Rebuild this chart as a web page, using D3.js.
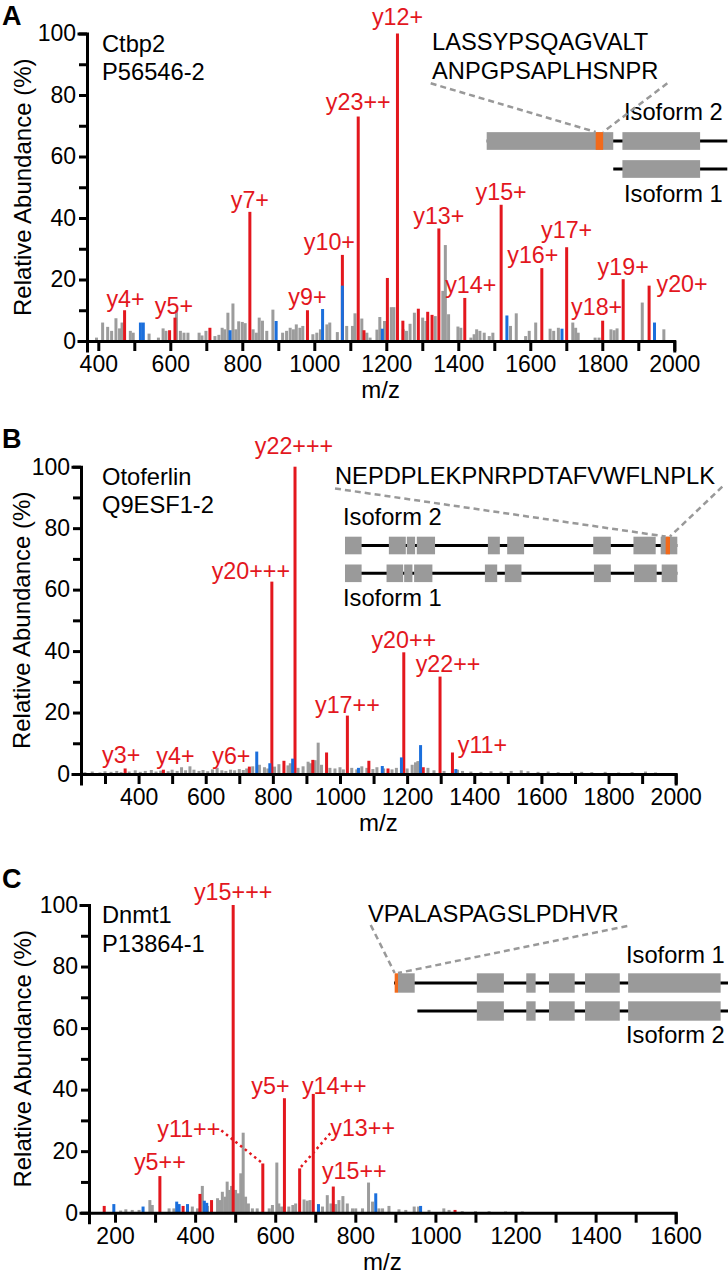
<!DOCTYPE html>
<html><head><meta charset="utf-8">
<script src="https://cdn.jsdelivr.net/npm/d3@7"></script>
<style>
body{margin:0;background:#fff}
svg text{font-family:"Liberation Sans",Arial,Helvetica,sans-serif}
</style>
</head><body>
<svg id="chart" width="728" height="1280"></svg>
<script>
// ---------------- DATA ----------------
// Panel A : Ctbp2
const grayA = [[395,1.1],[412,6],[426,4.6],[437,3.3],[449,7.4],[459,4.1],[466,6],[489,3.3],[497,2.7],[541,2.4],[567,1.1],[580,4.1],[588,3.3],[617,10],[628,3.3],[638,2.7],[649,2.7],[680,2.7],[688,1.8],[699,3.3],[724,1.6],[735,2],[744,4.3],[751,3.8],[760,9.2],[774,12.2],[782,3.8],[790,6.4],[800,6.2],[808,5.8],[830,3.8],[839,2.7],[847,7.6],[856,6.6],[868,3.3],[885,10.2],[912,2.7],[923,3.3],[933,4.3],[942,3.8],[950,5.4],[960,4.3],[968,4.9],[996,2.2],[1007,2.7],[1017,3.8],[1035,5.4],[1043,6],[1064,2.9],[1090,4.9],[1106,4.9],[1113,9],[1132,7.3],[1146,2.7],[1155,1.1],[1174,3.7],[1182,7.8],[1195,6.5],[1214,11],[1221,11],[1247,3.8],[1256,3.3],[1266,5.6],[1278,9.2],[1301,7.6],[1310,6.5],[1336,8.1],[1357,16.3],[1364,31.2],[1373,8.7],[1399,4.7],[1407,4.3],[1435,1.1],[1444,2.2],[1451,3.8],[1460,3.3],[1472,2.7],[1486,1.6],[1496,2.7],[1545,4.9],[1561,9],[1587,1.6],[1597,3.3],[1615,6],[1655,4],[1665,3.3],[1678,4.3],[1718,6],[1726,4.3],[1733,2.7],[1780,1.1],[1791,1.1],[1824,3.8],[1833,3.5],[1841,4.1],[1911,12.5],[1971,3.8]];
const redA = [[473,10],[598,3.5],[613,7.6],[710,4.3],[821,42],[981,10],[1078,28],[1122,73],[1138,3.5],[1203,20.5],[1231,100],[1246,6.6],[1289,10.5],[1315,9.5],[1327,8.5],[1346,36.6],[1418,14],[1519,44.3],[1632,23.7],[1701,30.5],[1801,6.6],[1858,20.1],[1930,18]];
const blueA = [[517,6],[525,6],[766,3.5],[894,6.5],[1023,10.4],[1078,18],[1189,4],[1535,8.3],[1688,4],[1945,6]];
const labelTextA = ["y4+","y5+","y7+","y9+","y10+","y23++","y12+","y13+","y14+","y15+","y16+","y17+","y18+","y19+","y20+"];
const labelMzA = [473,613,821,981,1078,1122,1231,1346,1418,1519,1632,1701,1801,1858,1930];

// Panel B : Otoferlin
const grayB = [[240,0.6],[262,0.8],[285,0.5],[300,0.9],[318,0.7],[335,1.0],[348,0.6],[372,0.8],[390,1.2],[405,0.7],[420,1.0],[438,1.3],[452,0.8],[466,1.1],[488,0.9],[500,1.4],[515,1.0],[528,2.2],[540,1.2],[553,2.5],[565,1.4],[580,1.0],[592,1.3],[606,0.9],[620,1.5],[634,2.0],[648,1.2],[660,1.0],[674,1.4],[686,1.2],[700,1.6],[712,1.3],[722,1.8],[740,2.5],[760,3.0],[775,2.2],[785,1.8],[805,2.4],[818,3.2],[845,2.8],[852,3.5],[875,2.0],[890,2.5],[905,4.0],[912,3.5],[926,4.5],[935,10.2],[945,3.0],[970,2.0],[985,1.8],[1000,2.2],[1010,1.5],[1035,2.0],[1050,1.5],[1065,2.5],[1080,2.0],[1098,1.6],[1110,2.2],[1130,1.8],[1155,1.5],[1168,2.0],[1200,1.8],[1215,3.0],[1225,3.8],[1232,4.2],[1262,2.0],[1280,1.2],[1310,1.0],[1350,1.4],[1365,1.0],[1390,0.8],[1420,0.7],[1450,0.9],[1480,0.8],[1510,1.0],[1540,1.2],[1560,0.9],[1590,0.7],[1620,0.8],[1650,0.6],[1690,0.8],[1720,0.7],[1750,0.6],[1790,0.7],[1830,0.5],[1870,0.6],[1910,0.8],[1940,0.5]];
const redB = [[360,1.8],[474,1.4],[730,2.4],[797,62.6],[833,4.3],[866,100],[919,4.6],[960,7],[1022,19],[1086,4.3],[1143,1.8],[1190,39.6],[1248,2.2],[1298,31.7],[1335,7]];
const blueB = [[752,7.3],[791,3.5],[859,5],[1055,2],[1126,2.6],[1183,5.4],[1240,9.4],[1345,1.6]];
const labelTextB = ["y3+","y4+","y6+","y20+++","y22+++","y17++","y20++","y22++","y11+"];
const labelMzB = [360,474,730,797,866,1022,1190,1298,1335];

// Panel C : Dnmt1
const grayC = [[214,0.7],[227,1.1],[243,0.9],[260,0.9],[287,4.1],[293,2.5],[335,1.4],[347,1.4],[393,2],[406,1.4],[418,8.7],[431,2.2],[456,4.7],[462,4.1],[468,6.8],[475,5.2],[480,10.1],[486,7.4],[491,8.7],[501,7.4],[508,6.3],[514,12.8],[520,26],[526,5.2],[533,3],[543,1.4],[555,1.4],[585,1.4],[593,2.5],[604,16.3],[609,3],[616,2],[634,2],[644,2.5],[651,3],[672,4.3],[680,3.9],[687,4.1],[718,2],[730,5.7],[739,3],[751,2.8],[759,4.1],[769,5.4],[780,3],[793,1.4],[801,1.4],[818,1.4],[833,9.8],[843,3.6],[859,1.4],[868,1.4],[884,2.2],[909,1.1],[926,0.9],[947,2],[958,2],[984,0.9],[1021,1.4],[1034,0.9],[1067,0.5],[1100,0.5],[1134,0.5],[1175,0.4],[1217,0.4]];
const redC = [[173,2.2],[312,11.9],[370,2.2],[412,6.1],[441,4.1],[495,100],[569,16],[623,37.2],[661,14.4],[695,38.6],[745,8.5],[1049,0.9]];
const blueC = [[197,2.8],[270,2],[354,3.6],[360,2.8],[381,2.8],[423,3.9],[429,3.2],[708,2.8],[851,6.3],[963,2.2]];
const labelTextC = ["y5++","y11++","y15+++","y5+","y14++","y13++","y15++"];
const labelMzC = [312,569,495,623,695,661,745];

// Axis tick values
const yTicks = [0,10,20,30,40,50,60,70,80,90,100];
const xTicksA = d3.range(400, 2001, 100);
const xTicksB = d3.range(300, 2001, 100);
const xTicksC = d3.range(200, 1601, 100);

// Isoform gene models (relative gene coordinates 0-1000)
const isoA2 = [[0,526],[564,887]];
const isoA1 = [[564,887]];
const pepA = [453,484];
const isoB2 = [[0,50],[132,183],[186,211],[216,271],[430,466],[488,539],[747,800],[868,935],[950,1000]];
const isoB1 = [[0,50],[125,175],[178,203],[208,263],[421,458],[481,531],[749,800],[870,938],[953,1000]];
const pepB = [965,978];
const isoC1 = [[12,62],[248,329],[396,424],[464,541],[572,676],[701,978]];
const isoC2 = [[248,329],[396,424],[464,541],[572,676],[701,978]];
const pepC = [2,12];

// ---------------- LAYOUT ----------------
const RED="#e3171e", BLUE="#1b6fdc", GRAY="#9c9c9c", ORANGE="#f26a1b", EXON="#9a9a9a";
const FS=23.7;
const svg = d3.select("#chart");

const panels = [
 {letter:"A", letterY:25, gray:grayA, red:redA, blue:blueA, xd:[368.6,2000], xr:[87,674.3], yr:[341,33.5], xt:xTicksA, lab:200,
  ylabX:31, names:["Ctbp2","P56546-2"], namesY:[51.7,80],
  labels:labelTextA, labelMz:labelMzA,
  off:[[1,-3],[-1,-4],[0,-4],[0,-5],[-13,-5],[0,-7],[0,-9],[0,-4],[6,-5],[0,-5],[-9,-5],[0,-9],[-6,-6],[0,-4],[33,6]]},
 {letter:"B", letterY:448, gray:grayB, red:redB, blue:blueB, xd:[228.5,2000], xr:[81,675.7], yr:[774,466.7], xt:xTicksB, lab:200,
  ylabX:29.5, names:["Otoferlin","Q9ESF1-2"], namesY:[485,513.3],
  labels:labelTextB, labelMz:labelMzB,
  off:[[-4,-5],[12,-6],[-18,-3],[-21,-3],[-1,-13],[0,-3],[0,-4],[8,-5],[30,1]]},
 {letter:"C", letterY:888, gray:grayC, red:redC, blue:blueC, xd:[135,1600], xr:[89,675.7], yr:[1212.7,905], xt:xTicksC, lab:200,
  ylabX:31, names:["Dnmt1","P13864-1"], namesY:[922.7,951.7],
  labels:labelTextC, labelMz:labelMzC,
  off:[[0,-6],[-74,-26],[0,-5],[-14,-4],[21,0],[63,-32],[21,-8]], leaders:{"y11++":"right","y13++":"left"}}
];

panels.forEach(p => {
  const x = d3.scaleLinear().domain(p.xd).range(p.xr);
  const y = d3.scaleLinear().domain([0,100]).range(p.yr);
  const g = svg.append("g");
  const bw = 3;
  const bars = (data, color) => g.append("g").selectAll("rect").data(data).join("rect")
      .attr("x", d => x(d[0]) - bw/2).attr("width", bw)
      .attr("y", d => y(d[1])).attr("height", d => y(0) - y(d[1]))
      .attr("fill", color);
  bars(p.gray, GRAY);
  bars(p.red, RED);
  bars(p.blue, BLUE);

  // axes
  const xa = g.append("g").attr("transform", `translate(0,${p.yr[0]})`)
    .call(d3.axisBottom(x).tickValues(p.xt).tickFormat(d => d % p.lab === 0 ? d : "")
      .tickSizeOuter(0).tickSize(10).tickPadding(5));
  const ya = g.append("g").attr("transform", `translate(${p.xr[0]},0)`)
    .call(d3.axisLeft(y).tickValues(yTicks).tickFormat(d => d % 20 === 0 ? d : "")
      .tickSizeOuter(0).tickSize(8).tickPadding(3));
  [xa, ya].forEach(a => {
    a.select(".domain").attr("stroke","#000").attr("stroke-width",3).attr("stroke-linecap","square");
    a.selectAll(".tick line").attr("stroke","#000").attr("stroke-width",3);
    a.selectAll(".tick text").attr("fill","#000").style("font-size","23px")
      .style("font-family",'"Liberation Sans",Arial,sans-serif');
  });

  // axis titles
  g.append("text").attr("transform", `translate(${p.ylabX},${(p.yr[0]+p.yr[1])/2}) rotate(-90)`)
    .attr("text-anchor","middle").style("font-size","24px").text("Relative Abundance (%)");
  g.append("text").attr("x",(p.xr[0]+p.xr[1])/2).attr("y",p.yr[0]+57)
    .attr("text-anchor","middle").style("font-size","24px").text("m/z");
  // letter
  g.append("text").attr("x",2).attr("y",p.letterY).style("font-size","27px").style("font-weight","bold").text(p.letter);
  // protein names
  p.names.forEach((n,i) => g.append("text").attr("x",102).attr("y",p.namesY[i]).style("font-size",FS+"px").text(n));

  // peak labels
  p.labels.forEach((t,i) => {
    const mz = p.labelMz[i];
    const pk = p.red.find(d => d[0] === mz);
    const bx = x(mz), by = y(pk[1]);
    const tx = bx + p.off[i][0], ty = by + p.off[i][1];
    const te = g.append("text").attr("x",tx).attr("y",ty).attr("text-anchor","middle")
      .attr("fill",RED).style("font-size","23.3px").text(t);
    if (p.leaders && p.leaders[t]) {
      const w = te.node().getComputedTextLength();
      const lx = p.leaders[t] === "right" ? tx + w/2 + 1 : tx - w/2;
      const ly = p.leaders[t] === "right" ? ty - 7 : ty - 3;
      g.append("line").attr("x1",lx).attr("y1",ly).attr("x2",bx).attr("y2",by)
        .attr("stroke",RED).attr("stroke-width",2.5).attr("stroke-dasharray","2.5,3.5");
    }
  });
});

// ---------------- INSETS ----------------
function geneRow(g, sc, yc, h, lineSpan, exons, pep) {
  g.append("line").attr("x1",sc(lineSpan[0])).attr("x2",sc(lineSpan[1])).attr("y1",yc).attr("y2",yc)
    .attr("stroke","#000").attr("stroke-width",3);
  g.append("g").selectAll("rect").data(exons).join("rect")
    .attr("x",d=>sc(d[0])).attr("width",d=>sc(d[1])-sc(d[0]))
    .attr("y",yc-h/2).attr("height",h).attr("fill",EXON);
  if (pep) g.append("rect").attr("x",sc(pep[0])).attr("width",sc(pep[1])-sc(pep[0]))
    .attr("y",yc-h/2).attr("height",h).attr("fill",ORANGE);
}
function dashed(g, x1,y1,x2,y2){
  g.append("line").attr("x1",x1).attr("y1",y1).attr("x2",x2).attr("y2",y2)
   .attr("stroke","#999").attr("stroke-width",2.5).attr("stroke-dasharray","6,4");
}
function txt(g,x,y,t){ g.append("text").attr("x",x).attr("y",y).style("font-size",FS+"px").text(t); }

// Inset A
{
  const g = svg.append("g");
  const sc = d3.scaleLinear().domain([0,1000]).range([486.7,727.3]);
  txt(g,432,50,"LASSYPSQAGVALT");
  txt(g,432,79.3,"ANPGPSAPLHSNPR");
  txt(g,624,120,"Isoform 2");
  txt(g,624,201.7,"Isoform 1");
  geneRow(g, sc, 141, 17.7, [0,1000], isoA2, pepA);
  geneRow(g, sc, 169, 17.7, [526,1000], isoA1, null);
  dashed(g, 430.7, 83.3, sc(pepA[0]), 132);
  dashed(g, 667.3, 83.3, sc(pepA[1]), 132);
}
// Inset B
{
  const g = svg.append("g");
  const sc = d3.scaleLinear().domain([0,1000]).range([345,677.3]);
  txt(g,335,484,"NEPDPLEKPNRPDTAFVWFLNPLK");
  txt(g,343,525,"Isoform 2");
  txt(g,343,606,"Isoform 1");
  geneRow(g, sc, 545.5, 17.6, [0,1000], isoB2, pepB);
  geneRow(g, sc, 573.3, 17.6, [0,1000], isoB1, null);
  dashed(g, 335, 488.5, sc(pepB[0]), 536.5);
  dashed(g, 722.3, 486.7, sc(pepB[1]), 536.5);
}
// Inset C
{
  const g = svg.append("g");
  const sc = d3.scaleLinear().domain([0,1000]).range([394,728]);
  txt(g,368,921.7,"VPALASPAGSLPDHVR");
  txt(g,626,963,"Isoform 1");
  txt(g,626,1043,"Isoform 2");
  geneRow(g, sc, 983, 19.4, [0,1000], isoC1, pepC);
  geneRow(g, sc, 1011, 19.4, [70,1000], isoC2, null);
  dashed(g, 370.7, 925, sc(pepC[0]), 973);
  dashed(g, 627.3, 926, sc(pepC[1]), 973);
}
</script>
</body></html>
